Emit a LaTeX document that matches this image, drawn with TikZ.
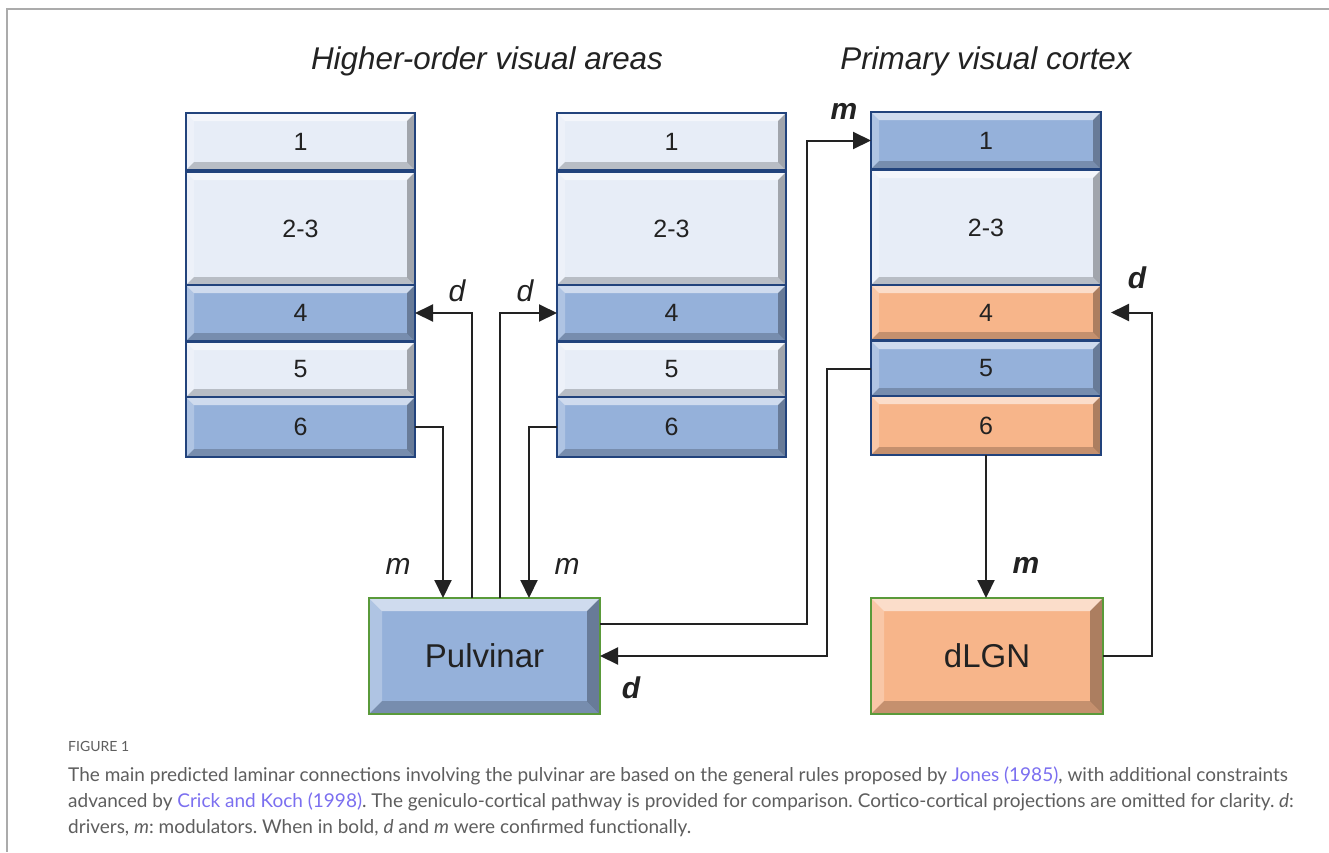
\documentclass[tikz,border=0pt]{standalone}
\usepackage{fontspec}
\setmainfont{Liberation Sans}
\newfontfamily\capfont{Lato}
\usetikzlibrary{arrows.meta,calc}
\definecolor{pale}{HTML}{E7EDF7}
\definecolor{lblue}{HTML}{95B1DA}
\definecolor{lorange}{HTML}{F7B58A}
\definecolor{navy}{HTML}{22437C}
\definecolor{grn}{HTML}{5A9A3A}
\definecolor{capgray}{HTML}{5E5E5E}
\definecolor{linkc}{HTML}{7B6FF0}
\definecolor{framegray}{HTML}{ABABAB}
\definecolor{inkc}{HTML}{222222}
\tikzset{
  boxbase/.style={rectangle, inner sep=0pt, outer sep=0pt},
  conn/.style={draw=inkc, line width=2pt, -{Triangle[length=18pt,width=17pt]}},
  lab/.style={font=\fontsize{30}{30}\selectfont\itshape, text=inkc, inner sep=0pt},
  blab/.style={font=\fontsize{30}{30}\selectfont\bfseries\itshape, text=inkc, inner sep=0pt},
  ttl/.style={font=\fontsize{31.4}{31}\selectfont\itshape, text=inkc, inner sep=0pt, anchor=base},
  captxt/.style={font=\capfont\fontsize{19}{22}\selectfont, text=capgray, inner sep=0pt, anchor=base west},
}
% #1 name #2 x1 #3 y1 #4 x2 #5 y2 #6 fill #7 border #8 text font+text #9 bevel
\newcommand\bvl[9]{%
  \pgfmathsetmacro\bw{#4-#2}\pgfmathsetmacro\bh{#5-#3}%
  \node[boxbase, fill=#6, minimum width=\bw pt, minimum height=\bh pt] (#1) at ({(#2+#4)/2},{(#3+#5)/2}) {};
  \fill[white,opacity=.55] (#1.north west) -- (#1.north east) -- ([shift={(-#9,#9)}]#1.north east) -- ([shift={(#9,#9)}]#1.north west) -- cycle;
  \fill[white,opacity=.25] (#1.north west) -- (#1.south west) -- ([shift={(#9,-#9)}]#1.south west) -- ([shift={(#9,#9)}]#1.north west) -- cycle;
  \fill[black,opacity=.2] (#1.south west) -- (#1.south east) -- ([shift={(-#9,-#9)}]#1.south east) -- ([shift={(#9,-#9)}]#1.south west) -- cycle;
  \fill[black,opacity=.3] (#1.north east) -- (#1.south east) -- ([shift={(-#9,-#9)}]#1.south east) -- ([shift={(-#9,#9)}]#1.north east) -- cycle;
  \draw[#7, line width=2.5pt] (#1.north west) rectangle (#1.south east);
  \node[inner sep=0pt, text=inkc] (#1-t) at (#1) {#8};
}
\begin{document}
\frenchspacing
\begin{tikzpicture}[x=1pt,y=-1pt]
\useasboundingbox (0,0) rectangle (1329,852);
\fill[white] (0,0) rectangle (1329,852);
\draw[framegray, line width=1.5pt] (1329,9) -- (7,9) -- (7,852);

\def\nf{\fontsize{25}{25}\selectfont}
\def\bf{\fontsize{33}{33}\selectfont}
% column 1
\bvl{a1}{186}{113}{415}{170}{pale}{navy}{\nf 1}{8}
\bvl{a2}{186}{172}{415}{285}{pale}{navy}{\nf 2-3}{8}
\bvl{a4}{186}{285}{415}{341}{lblue}{navy}{\nf 4}{8}
\bvl{a5}{186}{342}{415}{397}{pale}{navy}{\nf 5}{8}
\bvl{a6}{186}{397}{415}{457}{lblue}{navy}{\nf 6}{8}
% column 2
\bvl{b1}{557}{113}{786}{170}{pale}{navy}{\nf 1}{8}
\bvl{b2}{557}{172}{786}{285}{pale}{navy}{\nf 2-3}{8}
\bvl{b4}{557}{285}{786}{341}{lblue}{navy}{\nf 4}{8}
\bvl{b5}{557}{342}{786}{397}{pale}{navy}{\nf 5}{8}
\bvl{b6}{557}{397}{786}{457}{lblue}{navy}{\nf 6}{8}
% column 3
\bvl{c1}{871}{112}{1101}{169}{lblue}{navy}{\nf 1}{8}
\bvl{c2}{871}{170}{1101}{285}{pale}{navy}{\nf 2-3}{8}
\bvl{c4}{871}{285}{1101}{340}{lorange}{navy}{\nf 4}{8}
\bvl{c5}{871}{341}{1101}{396}{lblue}{navy}{\nf 5}{8}
\bvl{c6}{871}{396}{1101}{455}{lorange}{navy}{\nf 6}{8}
% thalamic nuclei
\bvl{pulv}{369}{598}{600}{714}{lblue}{grn}{\bf Pulvinar}{13}
\bvl{dlgn}{871}{598}{1103}{714}{lorange}{grn}{\bf dLGN}{13}

% titles
\node[ttl] (t1) at (487,69) {Higher-order visual areas};
\node[ttl] (t2) at (986,69) {Primary visual cortex};

% connectors
\draw[conn] (a6.east) -| ([xshift=-41.5pt]pulv.north);
\draw[conn] ([xshift=-12.5pt]pulv.north) |- (a4.east);
\draw[conn] ([xshift=15.5pt]pulv.north) |- (b4.west);
\draw[conn] (b6.west) -| ([xshift=44.5pt]pulv.north);
\draw[conn] ([yshift=32.5pt]pulv.east) -| ([xshift=-64pt]c1.west) -- (c1.west);
\draw[conn] (c5.west) -- ++(-44,0) |- (pulv.east);
\draw[conn] (c6.south) -- (c6.south |- dlgn.north);
\draw[conn] (dlgn.east) -- ++(49,0) |- ([xshift=10pt]c4.east);

% labels
\node[lab] (ld1) at (457,291) {d};
\node[lab] (ld2) at (525,291) {d};
\node[lab] (lm1) at (398,566) {m};
\node[lab] (lm2) at (567,566) {m};
\node[blab] (lm3) at (844,111) {m};
\node[blab] (ld3) at (1137,278) {d};
\node[blab] (lm4) at (1026,565) {m};
\node[blab] (ld4) at (631,688) {d};

% caption
\node[captxt, font=\capfont\fontsize{14}{16}\selectfont] (fig) at (68,751) {FIGURE 1};
\node[captxt] (cap1) at (68,781) {The main predicted laminar connections involving the pulvinar are based on the general rules proposed by \textcolor{linkc}{Jones (1985)}, with additional constraints};
\node[captxt] (cap2) at (68,807) {advanced by \textcolor{linkc}{Crick and Koch (1998)}. The geniculo-cortical pathway is provided for comparison. Cortico-cortical projections are omitted for clarity. \textit{d}:};
\node[captxt] (cap3) at (68,833) {drivers, \textit{m}: modulators. When in bold, \textit{d} and \textit{m} were confirmed functionally.};
\end{tikzpicture}
\end{document}
